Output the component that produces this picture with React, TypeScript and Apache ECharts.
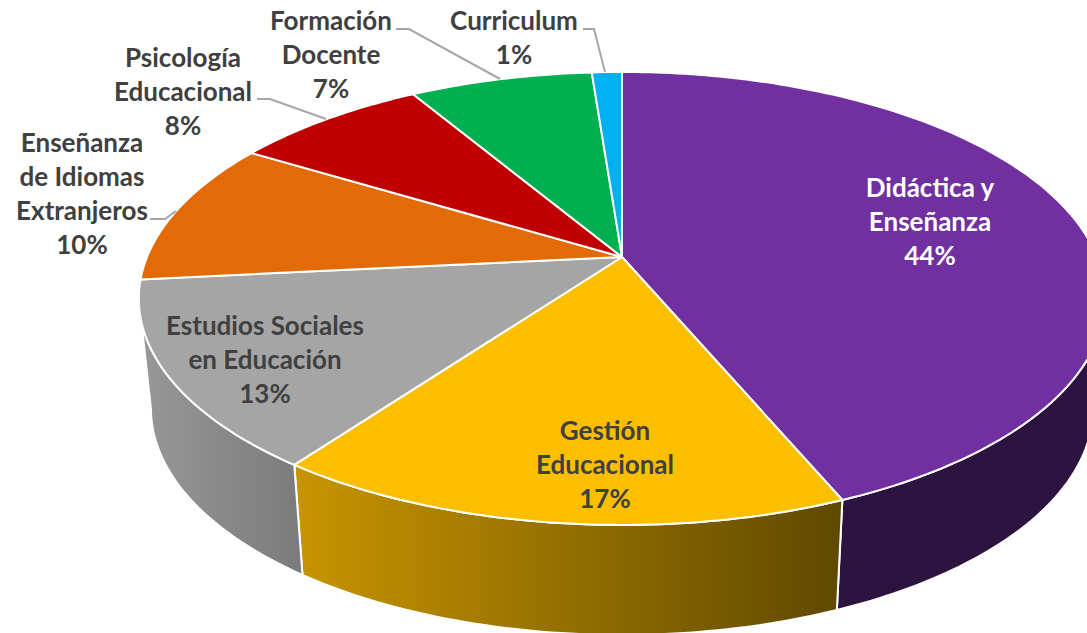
import React, { useEffect, useRef } from "react";
import * as echarts from "echarts";

const categories = [
  "Didáctica y\nEnseñanza",
  "Gestión\nEducacional",
  "Estudios Sociales\nen Educación",
  "Enseñanza\nde Idiomas\nExtranjeros",
  "Psicología\nEducacional",
  "Formación\nDocente",
  "Curriculum",
];
const values = [43.7, 16.3, 13.4, 10.3, 7.8, 7.3, 1.2];
const percentLabels = ["44%", "17%", "13%", "10%", "8%", "7%", "1%"];

const topColors = ["#7030A0", "#FBBF00", "#A5A5A5", "#E26B08", "#C00000", "#00B050", "#00B0F0"];
const wallStart = ["#2D1340", "#C89500", "#989898", "#E26B08", "#C00000", "#00B050", "#00B0F0"];
const wallEnd = ["#2D1340", "#5F4900", "#7B7B7B", "#E26B08", "#C00000", "#00B050", "#00B0F0"];
const labelColors = ["#FFFFFF", "#404040", "#404040", "#404040", "#404040", "#404040", "#404040"];
const labelPos = [
  [930, 221],
  [605, 464],
  [265, 359],
  [82, 193],
  [183, 91],
  [331, 54],
  [514, 37],
];
const leaders: (number[][] | null)[] = [
  null,
  null,
  null,
  [[150, 219], [165, 219], [176, 211]],
  [[257, 99], [270, 99], [326, 119]],
  [[396, 29], [409, 29], [500, 79]],
  [[583, 29], [594, 29], [605, 72]],
];

const CX = 622;
const CY = 257;
const RX = 475;
const RY = 218.9;
const PERSP = 0.183;
const DEPTH = 110;
const BOTTOM_SCALE = 0.975;
const WALL_MIN = 100.5;
const WALL_MAX = 259.5;

function project(deg: number, depth: number, scale: number) {
  const t = (deg * Math.PI) / 180;
  const u = Math.sin(t);
  const v = -Math.cos(t);
  const d = 1 - PERSP * v;
  return [CX + (RX * scale * u) / d, CY + depth + (RY * v) / d];
}

function arc(a: number, b: number, depth: number, scale: number) {
  const pts: number[][] = [];
  const n = Math.max(2, Math.ceil(Math.abs(b - a) / 1));
  for (let i = 0; i <= n; i++) pts.push(project(a + ((b - a) * i) / n, depth, scale));
  return pts;
}

const total = values.reduce((s, v) => s + v, 0);
let running = 0;
const sliceData = values.map((v, i) => {
  const start = (running / total) * 360;
  running += v;
  return { name: categories[i], value: [start, (running / total) * 360, v] };
});

function renderItem(params: any, api: any) {
  const i = params.dataIndex;
  const a = api.value(0);
  const b = api.value(1);
  const children: any[] = [];

  const wa = Math.max(a, WALL_MIN);
  const wb = Math.min(b, WALL_MAX);
  if (wb > wa) {
    const top = arc(wa, wb, 0, 1);
    const bottom = arc(wb, wa, DEPTH, BOTTOM_SCALE);
    const xs = [...top, ...bottom].map((p) => p[0]);
    children.push({
      type: "polygon",
      z2: 1,
      shape: { points: [...top, ...bottom] },
      style: {
        fill: new echarts.graphic.LinearGradient(
          Math.min(...xs),
          0,
          Math.max(...xs),
          0,
          [
            { offset: 0, color: wallStart[i] },
            { offset: 1, color: wallEnd[i] },
          ],
          true
        ),
        stroke: "#FFFFFF",
        lineWidth: 2,
        lineJoin: "round",
      },
    });
  }

  children.push({
    type: "polygon",
    z2: 2,
    shape: { points: [[CX, CY], ...arc(a, b, 0, 1)] },
    style: { fill: topColors[i], stroke: "#FFFFFF", lineWidth: 2, lineJoin: "round" },
  });

  const leader = leaders[i];
  if (leader) {
    children.push({
      type: "polyline",
      z2: 3,
      shape: { points: leader },
      style: { fill: "none", stroke: "#A6A6A6", lineWidth: 2 },
    });
  }

  children.push({
    type: "text",
    z2: 4,
    style: {
      text: `${categories[i]}\n${percentLabels[i]}`,
      x: labelPos[i][0],
      y: labelPos[i][1],
      fill: labelColors[i],
      fontFamily: "Lato",
      fontWeight: 700,
      fontSize: 26,
      lineHeight: 34,
      align: "center",
      verticalAlign: "middle",
    },
  });

  return { type: "group", children };
}

export default function App() {
  const ref = useRef<HTMLDivElement>(null);
  useEffect(() => {
    document.body.style.margin = "0";
    const chart = echarts.init(ref.current!, undefined, { renderer: "svg" });
    chart.setOption({
      animation: false,
      backgroundColor: "#FFFFFF",
      series: [
        {
          type: "custom",
          coordinateSystem: "none",
          renderItem,
          data: sliceData,
          silent: true,
        },
      ],
    });
    return () => chart.dispose();
  }, []);
  return <div ref={ref} style={{ width: 1087, height: 633 }} />;
}
